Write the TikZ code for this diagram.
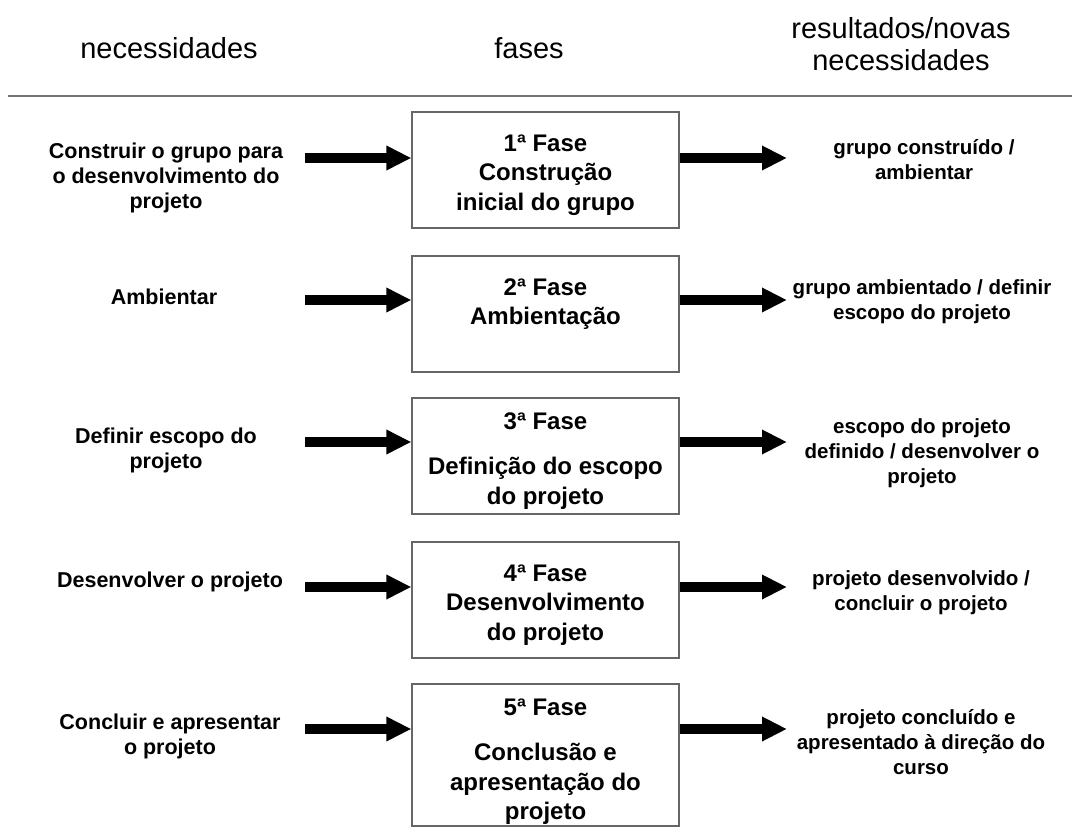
\documentclass[tikz,border=0pt]{standalone}
\usepackage{fontspec}
\setmainfont{Liberation Sans}
\usetikzlibrary{arrows.meta,positioning}

\begin{document}
\begin{tikzpicture}[
    x = 1pt, y = -1pt, % pixel units, y grows downwards
    every node/.style = {font=\bfseries\fontsize{21.5}{25}\selectfont, align=center, inner sep=0pt},
    head/.style = {font=\fontsize{29}{31.5}\selectfont}, % column titles
    result/.style = {font=\bfseries\fontsize{20.5}{25}\selectfont},
    fasebox/.style = {draw=black!60, line width=1.2pt, minimum width=267pt, minimum height=116pt},
    fasetext/.style = {anchor=north, yshift=-23pt, font=\bfseries\fontsize{24}{29.5}\selectfont},
    bigarrow/.style = {-{Triangle[length=25pt,width=23pt]}, line width=10pt}
    ]
    \useasboundingbox (0,0) rectangle (1077,827);

    % column titles
    \node[head] (hnec) at (169,48) {necessidades};
    \node[head] (hfas) at (529,48) {fases};
    \node[head] (hres) at (901,44) {resultados/novas\\necessidades};
    \coordinate (rl) at (8,96);
    \coordinate (rr) at (1072,96);
    \draw[black!55, line width=1.6pt] (rl) -- (rr);

    % phases
    \node[fasebox] (f1) at (545.5,170) {};
    \node[fasebox] (f2) at (545.5,314) {};
    \node[fasebox] (f3) at (545.5,456) {};
    \node[fasebox] (f4) at (545.5,600) {};
    \node[fasebox, minimum height=142pt] (f5) at (545.5,755) {};

    \node[fasetext] (t1) at (f1.north) {1ª Fase\\Construção\\inicial do grupo};
    \node[fasetext] (t2) at (f2.north) {2ª Fase\\Ambientação};
    \node[fasetext, yshift=7.5pt] (t3) at (f3.north) {3ª Fase\\[15.5pt]Definição do escopo\\do projeto};
    \node[fasetext] (t4) at (f4.north) {4ª Fase\\Desenvolvimento\\do projeto};
    \node[fasetext, yshift=7.5pt] (t5) at (f5.north) {5ª Fase\\[15.5pt]Conclusão e\\apresentação do\\projeto};

    % needs
    \node (n1) at (166,178) {Construir o grupo para\\o desenvolvimento do\\projeto};
    \node (n2) at (164,297) {Ambientar};
    \node (n3) at (166,450) {Definir escopo do\\projeto};
    \node (n4) at (170,582) {Desenvolver o projeto};
    \node (n5) at (170,736) {Concluir e apresentar\\o projeto};

    % results
    \node[result] (r1) at (924,160) {grupo construído /\\ambientar};
    \node[result] (r2) at (922,302) {grupo ambientado / definir\\escopo do projeto};
    \node[result] (r3) at (922,453) {escopo do projeto\\definido / desenvolver o\\projeto};
    \node[result] (r4) at (921,593) {projeto desenvolvido /\\concluir o projeto};
    \node[result] (r5) at (921,742) {projeto concluído e\\apresentado à direção do\\curso};

    % arrows
    \coordinate (a1) at (305,158);
    \coordinate (a2) at (305,300);
    \coordinate (a3) at (305,442);
    \coordinate (a4) at (305,587);
    \coordinate (a5) at (305,729);
    \coordinate (b1) at (787,158);
    \coordinate (b2) at (787,300);
    \coordinate (b3) at (787,442);
    \coordinate (b4) at (787,587);
    \coordinate (b5) at (787,729);

    \draw[bigarrow] (a1) -- (a1 -| f1.west);
    \draw[bigarrow] (a2) -- (a2 -| f2.west);
    \draw[bigarrow] (a3) -- (a3 -| f3.west);
    \draw[bigarrow] (a4) -- (a4 -| f4.west);
    \draw[bigarrow] (a5) -- (a5 -| f5.west);
    \draw[bigarrow] (b1 -| f1.east) -- (b1);
    \draw[bigarrow] (b2 -| f2.east) -- (b2);
    \draw[bigarrow] (b3 -| f3.east) -- (b3);
    \draw[bigarrow] (b4 -| f4.east) -- (b4);
    \draw[bigarrow] (b5 -| f5.east) -- (b5);
\end{tikzpicture}
\end{document}
